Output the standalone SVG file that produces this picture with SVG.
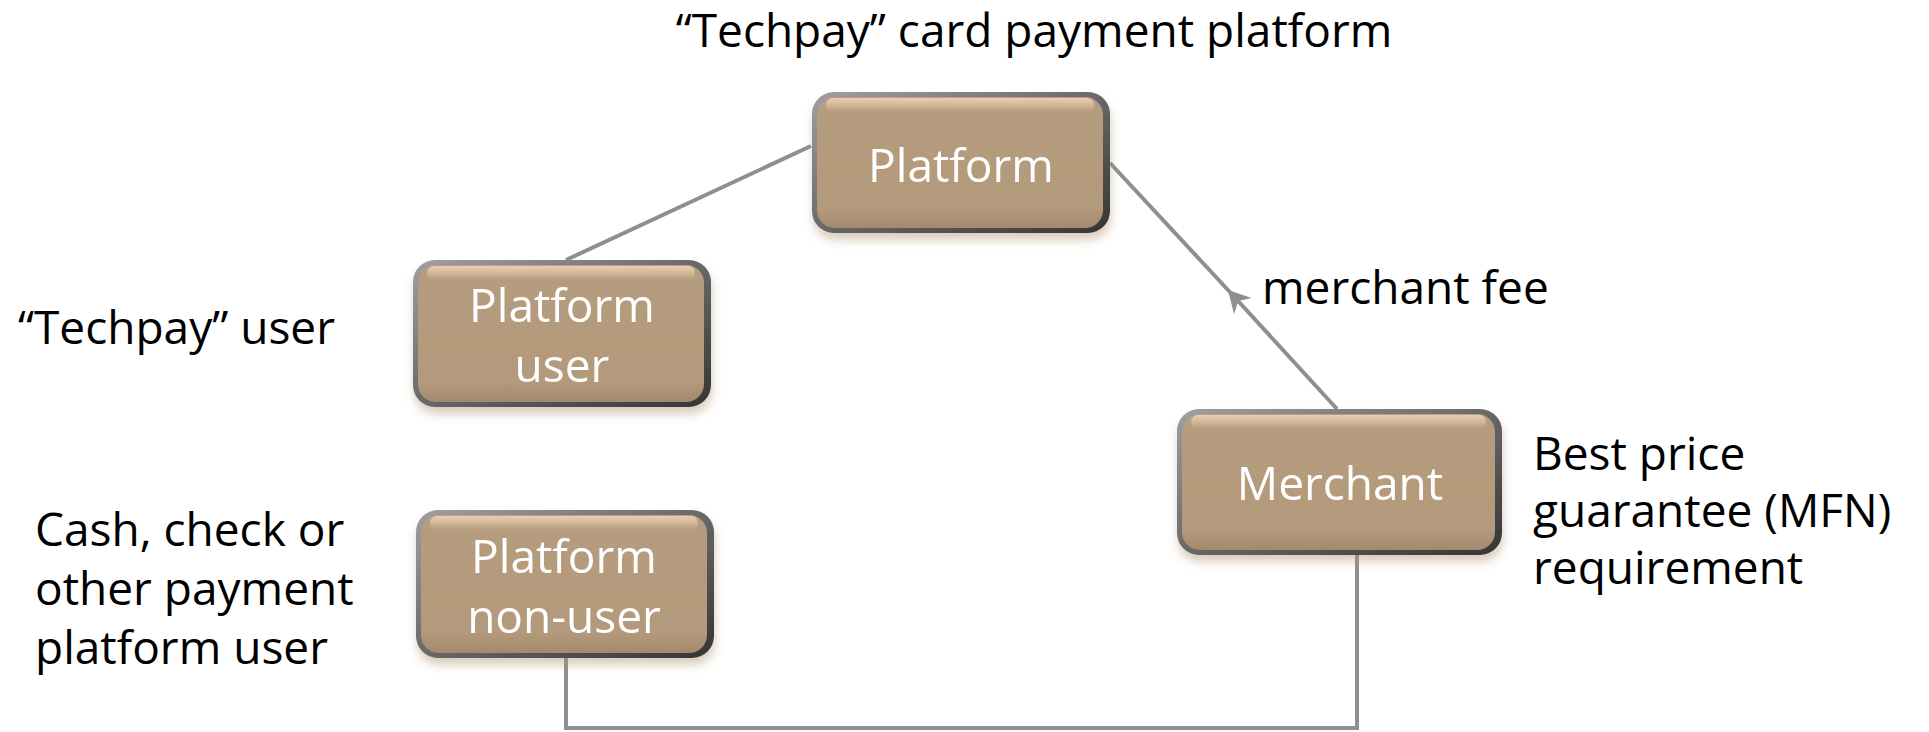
<svg xmlns="http://www.w3.org/2000/svg" width="1929" height="732" viewBox="0 0 1929 732">
<style>
.conn{fill:none;stroke:#8f8f8f;stroke-width:4}
.rim{fill:url(#rim)}
.face{fill:url(#face)}
.hl{fill:url(#hl)}
.nt{font-family:"Open Sans","Noto Sans",sans-serif;font-size:46px;fill:#ffffff;text-anchor:middle}
.lbl{font-family:"Open Sans","Noto Sans",sans-serif;font-size:46px;fill:#000000}
</style>
<defs>
<linearGradient id="rim" x1="0" y1="0" x2="1" y2="1">
<stop offset="0" stop-color="#a0a0a0"/>
<stop offset="0.5" stop-color="#686868"/>
<stop offset="1" stop-color="#353535"/>
</linearGradient>
<linearGradient id="face" x1="0" y1="0" x2="0" y2="1">
<stop offset="0" stop-color="#b8a084"/>
<stop offset="0.1" stop-color="#b69c7e"/>
<stop offset="0.85" stop-color="#b49a7b"/>
<stop offset="1" stop-color="#a38a6d"/>
</linearGradient>
<linearGradient id="hl" x1="0" y1="0" x2="0" y2="1">
<stop offset="0" stop-color="#f0d4b4" stop-opacity="0.9"/>
<stop offset="1" stop-color="#f0d4b4" stop-opacity="0"/>
</linearGradient>
<filter id="shadow" x="-10%" y="-10%" width="120%" height="130%">
<feDropShadow dx="1" dy="7" stdDeviation="5" flood-color="#b09070" flood-opacity="0.45"/>
</filter>
<marker id="arrow" markerUnits="userSpaceOnUse" viewBox="-24 -14 28 28" markerWidth="28" markerHeight="28" refX="0" refY="0" orient="auto">
<path d="M0,0 L-22,-12 L-15,0 L-22,12 Z" fill="#8f8f8f"/>
</marker>
</defs>
<rect x="0" y="0" width="1929" height="732" fill="#ffffff"/>

<g id="connectors">
<path class="conn" d="M811,146 L566,260"/>
<path class="conn" d="M1337,409 L1228,290 L1110,163" marker-mid="url(#arrow)"/>
<path class="conn" d="M566,658 V728 H1357 V555"/>
</g>

<g id="node-platform" filter="url(#shadow)">
<rect class="rim" x="812" y="92" width="298" height="141" rx="22"/>
<rect class="face" x="817" y="97" width="286" height="131" rx="18"/>
<rect class="hl" x="826" y="98" width="268" height="14" rx="7"/>
<text class="nt" x="961" y="182">Platform</text>
</g>

<g id="node-platform-user" filter="url(#shadow)">
<rect class="rim" x="413" y="260" width="298" height="147" rx="22"/>
<rect class="face" x="418" y="265" width="286" height="137" rx="18"/>
<rect class="hl" x="427" y="266" width="268" height="14" rx="7"/>
<text class="nt" x="562" y="322">Platform</text>
<text class="nt" x="562" y="382">user</text>
</g>

<g id="node-platform-nonuser" filter="url(#shadow)">
<rect class="rim" x="416" y="510" width="298" height="148" rx="22"/>
<rect class="face" x="421" y="515" width="286" height="138" rx="18"/>
<rect class="hl" x="430" y="516" width="268" height="14" rx="7"/>
<text class="nt" x="564" y="573">Platform</text>
<text class="nt" x="564" y="633">non-user</text>
</g>

<g id="node-merchant" filter="url(#shadow)">
<rect class="rim" x="1177" y="409" width="325" height="146" rx="22"/>
<rect class="face" x="1182" y="414" width="313" height="136" rx="18"/>
<rect class="hl" x="1191" y="415" width="295" height="14" rx="7"/>
<text class="nt" x="1340" y="500">Merchant</text>
</g>

<g id="labels">
<text class="lbl" x="1034" y="47" text-anchor="middle" font-size="47">“Techpay” card payment platform</text>
<text class="lbl" x="18" y="344" font-size="48">“Techpay” user</text>
<text class="lbl" x="35" y="546">Cash, check or</text>
<text class="lbl" x="35" y="605">other payment</text>
<text class="lbl" x="35" y="664">platform user</text>
<text class="lbl" x="1262" y="304">merchant fee</text>
<text class="lbl" x="1533" y="470">Best price</text>
<text class="lbl" x="1533" y="527">guarantee (MFN)</text>
<text class="lbl" x="1533" y="584">requirement</text>
</g>
</svg>
